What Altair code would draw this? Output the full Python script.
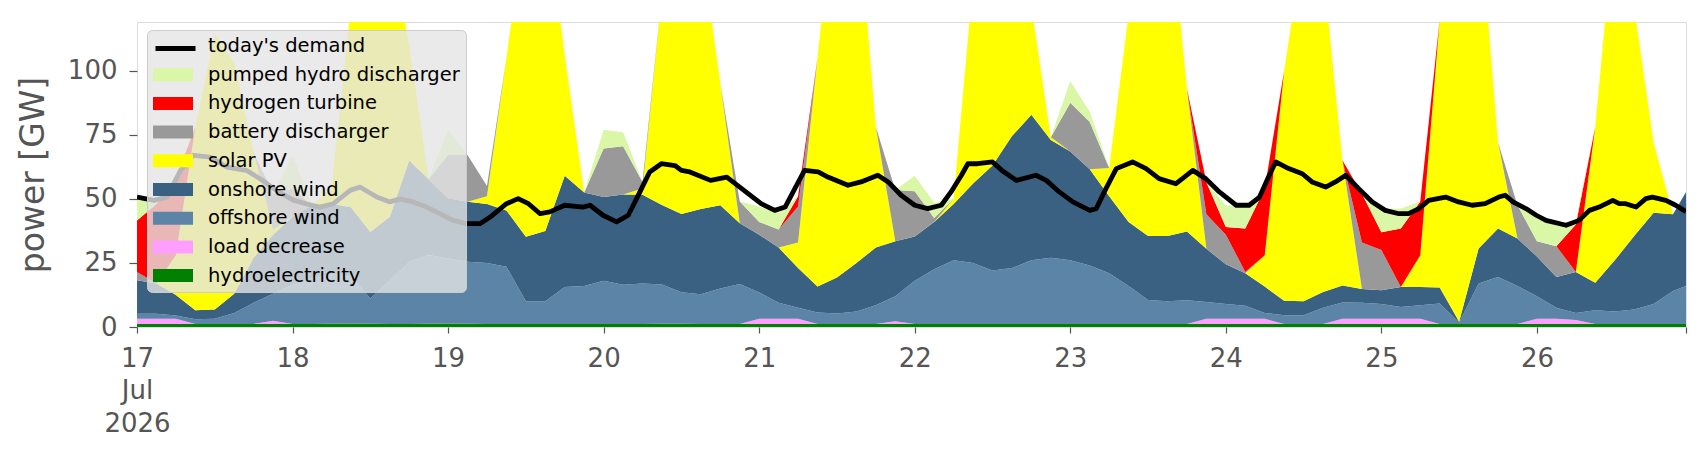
import altair as alt
import pandas as pd

# ---------------- data ----------------
HOURS = list(range(0, 240, 3)) + [239]   # hours since 17 Jul 2026 00:00

hydroelectricity = [
    1.2, 1.2, 1.2, 1.2, 1.2, 1.2, 1.2, 1.2, 1.2, 1.2,
    1.3, 1.4, 1.3, 1.2, 1.2, 1.3, 1.4, 1.3, 1.2, 1.2,
    1.2, 1.2, 1.2, 1.2, 1.2, 1.2, 1.2, 1.3, 1.3, 1.2,
    1.2, 1.2, 1.2, 1.2, 1.2, 1.2, 1.2, 1.2, 1.2, 1.2,
    1.2, 1.2, 1.2, 1.2, 1.2, 1.2, 1.2, 1.2, 1.2, 1.2,
    1.2, 1.2, 1.2, 1.2, 1.2, 1.2, 1.2, 1.2, 1.2, 1.2,
    1.2, 1.2, 1.2, 1.2, 1.2, 1.2, 1.2, 1.2, 1.2, 1.2,
    1.2, 1.2, 1.2, 1.2, 1.2, 1.2, 1.2, 1.2, 1.2, 1.2,
    1.2]
load_decrease = [
    2.0, 2.0, 2.0, 0, 0, 0, 0, 1.2, 0, 0,
    0, 0, 0, 0, 0, 0, 0, 0, 0, 0,
    0, 0, 0, 0, 0, 0, 0, 0, 0, 0,
    0, 0, 2.0, 2.0, 2.0, 0, 0, 0, 0, 1.0,
    0, 0, 0, 0, 0, 0, 0, 0, 0, 0,
    0, 0, 0, 0, 0, 2.0, 2.0, 2.0, 2.0, 0,
    0, 0, 2.0, 2.0, 2.0, 2.0, 2.0, 0, 0, 0,
    0, 0, 2.0, 2.0, 1.5, 0, 0, 0, 0, 0,
    0]
offshore_wind = [
    2.0, 2.0, 1.3, 1.8, 2.0, 4.3, 8.3, 10.6, 15.3, 17.8,
    19.3, 18.8, 9.8, 16.8, 24.3, 26.8, 25.3, 24.2, 23.8, 22.3,
    8.8, 8.8, 14.4, 14.8, 16.8, 15.3, 15.8, 15.3, 12.3, 11.6,
    13.8, 15.6, 10.3, 6.3, 4.3, 4.5, 4.1, 4.8, 7.3, 9.8,
    16.8, 21.3, 24.8, 23.8, 20.8, 21.8, 24.8, 25.8, 24.8, 22.8,
    19.8, 14.8, 9.3, 8.8, 9.2, 6.6, 5.8, 5.1, 2.3, 3.4,
    3.4, 6.3, 6.4, 6.3, 5.8, 4.6, 5.3, 8.0, 0.6, 15.8,
    18.3, 14.8, 8.8, 4.3, 2.8, 5.3, 4.8, 5.6, 7.8, 12.8,
    14.8]
onshore_wind = [
    13.0, 11.8, 8.0, 3.5, 3.6, 7.5, 17.5, 23.0, 26.5, 28.5,
    27.5, 26.5, 26.0, 25.0, 39.5, 29.5, 23.5, 23.4, 23.0, 22.0,
    25.2, 27.5, 43.4, 36.5, 32.7, 35.2, 34.6, 31.0, 30.5, 33.2,
    32.5, 23.7, 22.5, 21.5, 15.5, 10.1, 14.0, 19.0, 22.5, 21.5,
    17.3, 18.5, 22.0, 31.0, 41.0, 51.5, 56.8, 46.0, 42.5, 37.5,
    30.0, 25.0, 25.0, 25.5, 26.9, 20.7, 15.5, 12.7, 10.3, 5.6,
    5.4, 6.2, 6.6, 5.3, 5.3, 7.8, 7.1, 6.2, 0.2, 13.6,
    18.9, 18.5, 15.5, 12.0, 16.0, 10.8, 20.0, 28.7, 35.6, 30.0,
    36.7]
solar_pv = [
    0, 0, 15.5, 71.5, 107.7, 90.0, 41.0, 2.0, 0, 0,
    6.0, 78.5, 133.0, 107.0, 45.0, 0, 0, 0, 3.0, 59.5,
    124.8, 127.5, 47.0, 0, 0, 0, 2.4, 82.5, 131.0, 104.0,
    47.5, 0, 0, 0, 10.0, 89.2, 155.7, 145.0, 47.0, 0,
    0, 0, 2.0, 79.0, 122.0, 115.5, 42.2, 1.0, 0, 0,
    11.0, 81.0, 139.5, 134.5, 55.7, 0, 0, 0, 12.2, 89.8,
    140.0, 126.3, 48.8, 0, 0, 0, 12.4, 104.6, 168.0, 134.4,
    33.6, 0, 0, 0, 0, 60.7, 134.0, 89.5, 27.4, 0,
    0]
battery_discharger = [
    3.3, 0, 0, 0, 0, 0, 0, 14.0, 11.0, 0,
    0, 0, 0, 0, 0, 0, 17.0, 18.2, 4.0, 0,
    0, 0, 0, 0, 18.9, 18.8, 2.6, 0, 0, 0,
    0, 8.5, 5.0, 7.0, 14.0, 0, 0, 0, 0, 20.0,
    17.7, 1.5, 0, 0, 0, 0, 0, 0, 19.0, 18.5,
    0, 0, 0, 0, 0, 13.5, 11.5, 0.5, 0, 0,
    0, 0, 0, 18.2, 15.7, 0, 0, 0, 0, 0,
    0, 13.0, 6.0, 12.0, 0, 0, 0, 0, 0, 0,
    0]
hydrogen_turbine = [
    20.1, 31.0, 30.0, 0, 0, 0, 0, 0, 0, 0,
    0, 0, 0, 0, 0, 0, 0, 0, 0, 0,
    0, 0, 0, 0, 0, 0, 0, 0, 0, 0,
    0, 0, 0, 0, 4.0, 0, 0, 0, 0, 0,
    0, 0, 0, 0, 0, 0, 0, 0, 0, 0,
    0, 0, 0, 0, 0, 12.5, 3.0, 16.9, 26.0, 0,
    0, 0, 0, 19.0, 7.0, 22.8, 21.0, 0, 0, 0,
    0, 0, 0, 0, 18.5, 0, 0, 0, 0, 0,
    0]
pumped_hydro_discharger = [
    7.9, 2.0, 0, 0, 0, 0, 0, 0, 13.0, 0,
    0, 0, 0, 0, 0, 0, 9.7, 0, 0, 0,
    0, 0, 0, 0, 7.4, 5.5, 0, 0, 0, 0,
    0, 0, 6.0, 6.5, 0, 0, 0, 0, 0, 0,
    6.0, 6.0, 0, 0, 0, 0, 0, 0, 8.5, 4.0,
    0, 0, 0, 0, 0, 0, 8.5, 8.4, 0, 0,
    0, 0, 0, 0, 9.0, 7.8, 0, 0, 0, 0,
    0, 0, 9.5, 8.0, 1.0, 0, 0, 0, 0, 0,
    0]

DEMAND_HOURS = [
    0, 2.6, 4.6, 6.7, 8.7, 11.3, 13.9, 17, 19.5, 21.6, 24.2, 26.2, 28.2, 30.3,
    32.9, 34.4, 37, 39, 40.6, 42.6, 44.7, 46.7, 48.8, 50.8, 52.9, 54.5, 57,
    58.8, 60.4, 62.2, 63.7, 66, 68.8, 69.9, 71.9, 74, 75.8, 77.6, 79.1, 80.9,
    83, 84, 85.3, 88.5, 91, 93.3, 96.3, 98.4, 100, 101.5, 103, 105.1, 106.6,
    109.7, 111.7, 114.3, 115.9, 117.9, 120, 122, 124.1, 125.6, 127.2, 128.2,
    129.7, 132, 133.5, 135.7, 138.7, 140.3, 142.3, 144.4, 147, 148, 149.5,
    151.1, 153.6, 155.7, 157.7, 160.3, 161.3, 162.9, 164.9, 167, 169.6, 171.6,
    173.2, 174.7, 175.7, 177.7, 179.8, 181.3, 183.4, 184.9, 186.5, 188.5,
    190.6, 192.6, 194.7, 196.2, 197.8, 199.3, 201.9, 203.9, 206, 208, 210.1,
    211.1, 212.3, 214.3, 215.9, 217.4, 220.5, 222.5, 224.1, 225.6, 227.7,
    228.7, 229.7, 231.3, 232.8, 233.8, 235.9, 237.4, 239]
DEMAND_GW = [
    50.7, 49.4, 50.7, 61.0, 67.0, 66.3, 62.4, 61.0, 57.0, 53.0, 49.4, 48.0, 46.8, 48.1,
    53.3, 54.6, 50.7, 48.8, 50.0, 48.8, 46.8, 44.2, 41.6, 40.3, 40.3, 42.9, 48.1,
    50.1, 48.1, 44.2, 44.9, 47.5, 46.8, 47.5, 43.6, 41.0, 43.6, 52.7, 60.5, 63.7,
    63.0, 61.1, 60.5, 57.2, 58.5, 54.0, 48.1, 45.5, 46.8, 54.0, 61.1, 60.5, 58.5,
    55.3, 56.6, 59.2, 56.6, 51.4, 47.5, 46.2, 47.5, 52.7, 59.2, 63.7,
    63.7, 64.4, 61.0, 57.2, 59.2, 57.2, 52.7, 48.8, 45.5, 46.2, 54.0,
    61.8, 64.4, 61.8, 57.9, 55.9, 57.9, 61.1, 57.9, 52.7, 47.5, 47.5,
    50.7, 59.2, 64.4, 61.8, 59.8, 56.6, 54.6, 56.6, 59.2, 54.0,
    48.8, 45.5, 44.2, 44.2, 46.2, 49.4, 50.7, 48.8, 47.5, 48.1, 50.7,
    51.4, 48.8, 46.2, 43.6, 41.6, 39.7, 41.6, 45.5, 46.8, 49.4,
    48.1, 48.1, 46.8, 50.1, 50.7, 49.4, 47.5, 45.0]

DEMAND_NAME = "today's demand"
# stack order bottom -> top
STACK = [
    ("hydroelectricity", hydroelectricity),
    ("load decrease", load_decrease),
    ("offshore wind", offshore_wind),
    ("onshore wind", onshore_wind),
    ("solar PV", solar_pv),
    ("battery discharger", battery_discharger),
    ("hydrogen turbine", hydrogen_turbine),
    ("pumped hydro discharger", pumped_hydro_discharger),
]
LEGEND_ORDER = [DEMAND_NAME, "pumped hydro discharger", "hydrogen turbine",
                "battery discharger", "solar PV", "onshore wind", "offshore wind",
                "load decrease", "hydroelectricity"]
# the demand entry's patch is left empty; its line symbol comes from the line legend
LEGEND_COLORS = ["rgba(0,0,0,0)", "#d9f7a6", "#ff0000", "#999999", "#ffff00",
                 "#3b6182", "#5c84a6", "#ff9eff", "#008000"]

DAY_LABELS = ["17", "18", "19", "20", "21", "22", "23", "24", "25", "26"]
MONTH_LABEL = "Jul"
YEAR_LABEL = "2026"
TICK_HOURS = [24 * i for i in range(len(DAY_LABELS))] + [239]
Y_TICKS = [0, 25, 50, 75, 100]
Y_MAX = 119

# ---------------- build tables ----------------
rows = []
for k, (name, vals) in enumerate(STACK):
    for h, v in zip(HOURS, vals):
        rows.append({"hour": h, "value": v, "series": name, "order": k})
area_df = pd.DataFrame(rows)
demand_df = pd.DataFrame({"hour": DEMAND_HOURS, "value": DEMAND_GW,
                          "series": DEMAND_NAME})

label_list = ["|".join([DAY_LABELS[0], MONTH_LABEL, YEAR_LABEL])] + DAY_LABELS[1:]
label_arr = "[" + ",".join("'" + s + "'" for s in label_list) + "]"
x_label_expr = ("datum.value > 230 ? '' : split(" + label_arr +
                "[round(datum.value / 24)], '|')")

FONT = "DejaVu Sans"
GREY = "#555555"

x_enc = alt.X("hour:Q",
              scale=alt.Scale(domain=[0, 239], nice=False, zero=False),
              axis=alt.Axis(values=TICK_HOURS, labelExpr=x_label_expr, title=None,
                            domain=False, grid=False, ticks=True, tickSize=6,
                            tickColor=GREY, tickWidth=1.2, labelFont=FONT,
                            labelFontSize=26, labelColor=GREY, labelPadding=12,
                            labelLineHeight=32.5, labelFlush=False,
                            labelOverlap=False, labelAlign="center",
                            labelBaseline="top"))

y_axis = alt.Axis(values=Y_TICKS, title="power [GW]", domain=False, grid=False,
                  ticks=True, tickSize=8, tickColor=GREY, tickWidth=1.2,
                  labelFont=FONT, labelFontSize=26, labelColor=GREY,
                  labelPadding=12, labelFlush=False, labelOverlap=False,
                  titleFont=FONT, titleFontSize=33, titleFontWeight="normal",
                  titleColor=GREY, titlePadding=17)
y_scale = alt.Scale(domain=[0, Y_MAX], nice=False, zero=True)

RECT_PATH = "M-1,-0.65L3,-0.65L3,0.65L-1,0.65Z"

area_legend = alt.Legend(
    title=None, orient="none", legendX=10, legendY=8, direction="vertical",
    fillColor="rgba(229,229,229,0.8)", strokeColor="#cccccc", cornerRadius=5,
    padding=6, labelFont=FONT, labelFontSize=19.5, labelColor="#000000",
    labelOffset=35, rowPadding=8.7, symbolSize=400, symbolType=RECT_PATH,
    symbolStrokeWidth=0, symbolOpacity=1, labelLimit=400, zindex=1,
)
line_legend = alt.Legend(
    title=None, orient="none", legendX=16, legendY=4, direction="vertical",
    padding=0, symbolType="stroke", symbolSize=1600, symbolStrokeWidth=5,
    labelOpacity=0, labelFontSize=1, zindex=2,
)

areas = alt.Chart(area_df).mark_area(clip=True, interpolate="linear").encode(
    x=x_enc,
    y=alt.Y("value:Q", stack="zero", scale=y_scale, axis=y_axis),
    color=alt.Color("series:N",
                    scale=alt.Scale(domain=LEGEND_ORDER, range=LEGEND_COLORS),
                    legend=area_legend),
    order=alt.Order("order:Q", sort="ascending"),
)

line = alt.Chart(demand_df).mark_line(clip=True, strokeWidth=4.8,
                                      strokeJoin="round").encode(
    x=alt.X("hour:Q"),
    y=alt.Y("value:Q"),
    stroke=alt.Stroke("series:N",
                      scale=alt.Scale(domain=[DEMAND_NAME], range=["#000000"]),
                      legend=line_legend),
)

chart = alt.layer(areas, line).properties(
    width=1549, height=305,
    autosize=alt.AutoSizeParams(type="none"),
    padding={"left": 129, "top": 14, "right": 12, "bottom": 130},
    background="white",
).configure_view(strokeWidth=0).configure(font=FONT)

chart.save("out.html", embed_options={"renderer": "svg", "actions": False})
